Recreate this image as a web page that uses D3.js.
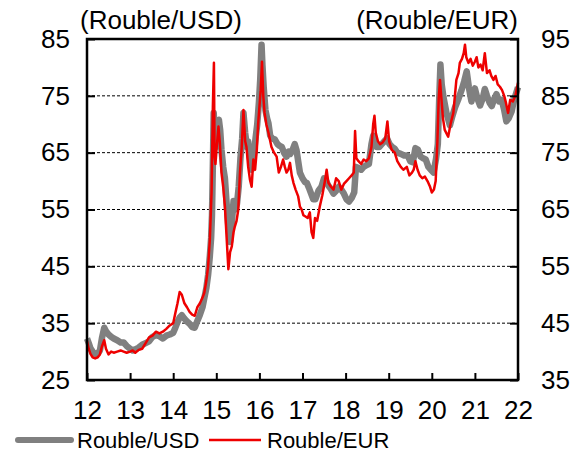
<!DOCTYPE html>
<meta charset="utf-8">
<script src="https://d3js.org/d3.v7.min.js"></script>
<style>
  body { margin: 0; background: #fff; }
  text { font-family: Arial, "Liberation Sans", sans-serif; fill: #000; }
</style>
<div id="chart"></div>
<script>

// x tick labels (years, 2-digit)
var years = [12, 13, 14, 15, 16, 17, 18, 19, 20, 21, 22];
var leftTicks = [25, 35, 45, 55, 65, 75, 85];
var rightTicks = [35, 45, 55, 65, 75, 85, 95];

// Rouble/USD, [decimal year, value] - left axis
var usd = [
  [2012.00,32.3],[2012.04,31.5],[2012.08,30.6],[2012.13,30.0],[2012.19,29.6],[2012.25,29.7],
  [2012.30,30.2],[2012.35,32.5],[2012.40,34.2],[2012.44,33.6],[2012.50,33.0],[2012.56,32.6],
  [2012.62,32.3],[2012.70,32.0],[2012.78,31.6],[2012.85,31.6],[2012.92,31.0],[2013.00,30.5],
  [2013.06,30.2],[2013.12,30.4],[2013.20,30.7],[2013.28,31.2],[2013.36,31.5],[2013.44,31.8],
  [2013.52,32.6],[2013.60,32.9],[2013.68,32.7],[2013.76,32.3],[2013.84,32.8],[2013.92,33.0],
  [2014.00,33.3],[2014.05,34.2],[2014.10,35.2],[2014.15,36.0],[2014.20,36.4],[2014.26,35.8],
  [2014.32,35.3],[2014.38,34.9],[2014.44,34.3],[2014.50,34.2],[2014.56,35.4],[2014.62,36.5],
  [2014.68,37.8],[2014.72,39.3],[2014.77,41.2],[2014.81,43.5],[2014.85,46.8],[2014.88,50.0],
  [2014.90,54.0],[2014.925,65.0],[2014.94,72.0],[2014.97,67.5],[2015.00,66.0],[2015.03,69.5],
  [2015.06,70.8],[2015.09,69.0],[2015.12,65.5],[2015.16,62.5],[2015.20,60.5],[2015.24,56.0],
  [2015.28,52.0],[2015.32,49.3],[2015.36,52.5],[2015.40,56.5],[2015.44,55.0],[2015.48,56.0],
  [2015.52,59.0],[2015.56,64.0],[2015.60,67.5],[2015.63,72.0],[2015.67,68.5],[2015.71,66.0],
  [2015.74,67.0],[2015.78,64.0],[2015.82,62.0],[2015.87,64.5],[2015.91,67.5],[2015.95,70.0],
  [2015.99,74.0],[2016.02,78.0],[2016.05,84.0],[2016.07,80.5],[2016.10,76.5],[2016.14,72.5],
  [2016.18,71.0],[2016.21,70.2],[2016.25,68.0],[2016.30,67.5],[2016.36,67.3],[2016.42,66.5],
  [2016.47,66.2],[2016.52,66.0],[2016.57,65.0],[2016.63,64.3],[2016.68,65.2],[2016.72,64.8],
  [2016.77,65.5],[2016.82,66.5],[2016.86,65.5],[2016.90,63.5],[2016.94,61.5],[2017.00,60.5],
  [2017.06,59.8],[2017.10,59.7],[2017.15,58.8],[2017.20,57.8],[2017.25,56.8],[2017.30,56.8],
  [2017.37,58.3],[2017.44,59.0],[2017.50,60.5],[2017.55,60.0],[2017.60,59.2],[2017.66,58.6],
  [2017.72,57.8],[2017.78,58.3],[2017.84,59.0],[2017.90,58.5],[2017.96,57.8],[2018.02,56.8],
  [2018.08,56.4],[2018.14,57.0],[2018.20,58.0],[2018.24,62.5],[2018.30,62.3],[2018.36,62.0],
  [2018.42,62.5],[2018.48,62.8],[2018.54,63.0],[2018.60,66.5],[2018.64,68.0],[2018.68,67.0],
  [2018.72,66.0],[2018.78,66.0],[2018.84,66.5],[2018.90,67.0],[2018.96,67.5],[2019.02,66.5],
  [2019.08,66.0],[2019.14,65.7],[2019.20,65.0],[2019.28,64.8],[2019.36,64.5],[2019.44,64.5],
  [2019.50,63.5],[2019.56,63.3],[2019.62,65.8],[2019.68,65.5],[2019.74,64.3],[2019.80,64.0],
  [2019.86,63.8],[2019.92,62.5],[2019.98,62.0],[2020.04,61.5],[2020.10,64.0],[2020.14,66.5],
  [2020.17,74.0],[2020.20,80.5],[2020.23,77.0],[2020.27,74.8],[2020.34,72.0],[2020.42,69.8],
  [2020.48,71.5],[2020.54,73.0],[2020.62,74.5],[2020.69,76.0],[2020.75,77.5],[2020.81,79.3],
  [2020.86,76.5],[2020.92,74.0],[2020.96,75.5],[2021.00,76.3],[2021.06,74.5],[2021.12,73.3],
  [2021.18,74.5],[2021.23,76.2],[2021.28,75.0],[2021.34,73.8],[2021.39,73.2],[2021.45,74.5],
  [2021.50,75.3],[2021.56,74.0],[2021.62,74.3],[2021.68,72.5],[2021.73,70.5],[2021.78,71.0],
  [2021.85,72.2],[2021.90,74.0],[2021.95,75.3],[2022.00,76.5]
];

// Rouble/EUR, [decimal year, value] - right axis
var eur = [
  [2012.00,41.8],[2012.04,40.5],[2012.08,39.6],[2012.13,39.0],[2012.19,38.8],[2012.25,39.0],
  [2012.30,39.5],[2012.35,41.0],[2012.40,42.0],[2012.44,40.5],[2012.50,39.5],[2012.56,40.0],
  [2012.62,39.8],[2012.70,40.0],[2012.78,40.2],[2012.85,40.0],[2012.92,39.8],[2013.00,40.0],
  [2013.06,40.2],[2013.12,39.8],[2013.20,40.3],[2013.28,40.5],[2013.36,41.5],[2013.44,42.5],
  [2013.52,42.8],[2013.60,43.5],[2013.68,43.2],[2013.76,43.5],[2013.84,44.0],[2013.92,44.6],
  [2014.00,45.0],[2014.05,46.8],[2014.10,48.5],[2014.15,50.5],[2014.20,50.0],[2014.26,48.5],
  [2014.32,47.8],[2014.38,47.0],[2014.44,46.5],[2014.50,46.3],[2014.56,47.8],[2014.62,48.5],
  [2014.68,49.5],[2014.72,50.3],[2014.77,52.5],[2014.81,55.0],[2014.85,59.7],[2014.89,68.0],
  [2014.92,83.0],[2014.945,90.8],[2014.96,74.3],[2014.98,73.0],[2015.01,76.0],[2015.05,79.6],
  [2015.08,77.0],[2015.12,71.5],[2015.16,69.0],[2015.20,65.5],[2015.24,60.0],[2015.28,54.5],
  [2015.32,57.5],[2015.36,58.5],[2015.40,61.0],[2015.43,62.0],[2015.47,63.0],[2015.51,65.0],
  [2015.55,71.5],[2015.59,76.0],[2015.63,82.5],[2015.67,77.0],[2015.70,76.0],[2015.74,72.5],
  [2015.78,70.3],[2015.82,69.0],[2015.86,73.8],[2015.90,72.0],[2015.94,75.5],[2015.97,80.0],
  [2016.00,83.0],[2016.03,86.0],[2016.06,91.0],[2016.09,85.0],[2016.12,82.0],[2016.16,80.0],
  [2016.21,78.5],[2016.28,76.0],[2016.34,75.0],[2016.40,74.3],[2016.45,71.5],[2016.50,72.5],
  [2016.55,73.8],[2016.59,72.5],[2016.63,71.5],[2016.67,72.0],[2016.71,73.2],[2016.75,71.0],
  [2016.79,69.7],[2016.84,68.5],[2016.90,67.3],[2016.94,65.5],[2016.98,65.0],[2017.02,64.0],
  [2017.06,63.8],[2017.12,63.5],[2017.17,64.5],[2017.21,61.0],[2017.25,60.0],[2017.29,63.5],
  [2017.34,63.0],[2017.40,65.5],[2017.46,67.5],[2017.52,70.0],[2017.56,72.0],[2017.60,69.7],
  [2017.66,69.0],[2017.72,68.5],[2017.78,70.5],[2017.84,70.0],[2017.90,68.5],[2017.96,69.5],
  [2018.02,70.0],[2018.08,70.5],[2018.14,71.0],[2018.19,71.5],[2018.22,78.8],[2018.25,74.0],
  [2018.30,73.5],[2018.36,73.0],[2018.42,73.8],[2018.48,73.5],[2018.54,74.0],[2018.60,76.0],
  [2018.64,80.0],[2018.67,81.5],[2018.70,78.5],[2018.75,77.0],[2018.80,76.5],[2018.86,76.8],
  [2018.92,77.5],[2018.97,80.5],[2019.01,77.0],[2019.07,75.5],[2019.14,75.0],[2019.20,73.5],
  [2019.28,72.5],[2019.34,72.0],[2019.42,72.5],[2019.48,71.0],[2019.54,71.5],[2019.58,72.0],
  [2019.62,73.5],[2019.67,72.0],[2019.72,71.0],[2019.78,70.5],[2019.84,70.8],[2019.90,70.0],
  [2019.96,69.0],[2020.00,68.0],[2020.05,68.5],[2020.09,70.0],[2020.13,77.0],[2020.16,84.5],
  [2020.19,87.8],[2020.22,84.8],[2020.26,81.0],[2020.30,79.0],[2020.38,77.8],[2020.44,80.2],
  [2020.50,82.0],[2020.57,87.8],[2020.62,89.0],[2020.65,90.8],[2020.70,91.5],[2020.74,92.5],
  [2020.77,94.0],[2020.80,91.8],[2020.85,90.8],[2020.90,91.5],[2020.95,90.3],[2021.00,91.0],
  [2021.04,91.8],[2021.08,90.0],[2021.13,90.5],[2021.18,89.5],[2021.23,92.5],[2021.28,89.0],
  [2021.34,89.5],[2021.38,88.5],[2021.43,87.8],[2021.48,88.5],[2021.53,87.0],[2021.58,86.6],
  [2021.63,86.0],[2021.68,85.0],[2021.72,83.8],[2021.77,82.0],[2021.82,84.3],[2021.88,84.0],
  [2021.94,85.0],[2022.00,87.3]
];

var W = 587, H = 453;
var margin = {top: 39, right: 69, bottom: 73, left: 87},
    width = W - margin.left - margin.right,
    height = H - margin.top - margin.bottom;

var svg = d3.select("#chart").append("svg")
    .attr("width", W)
    .attr("height", H);

var g = svg.append("g")
    .attr("transform", "translate(" + margin.left + "," + margin.top + ")");

var x = d3.scaleLinear().domain([2012, 2022]).range([0, width]);
var yL = d3.scaleLinear().domain([25, 85]).range([height, 0]);
var yR = d3.scaleLinear().domain([35, 95]).range([height, 0]);

// dotted gridlines
g.selectAll(".grid")
    .data(leftTicks.filter(function(d) { return d > 25 && d < 85; }))
    .enter().append("line")
    .attr("x1", 0).attr("x2", width)
    .attr("y1", function(d) { return yL(d); })
    .attr("y2", function(d) { return yL(d); })
    .attr("stroke", "#000")
    .attr("stroke-width", 1)
    .attr("stroke-dasharray", "3,2");

// lines
var line = function(scale) {
  return d3.line()
    .x(function(d) { return x(d[0]); })
    .y(function(d) { return scale(d[1]); });
};

g.append("path")
    .datum(usd)
    .attr("fill", "none")
    .attr("stroke", "#808080")
    .attr("stroke-width", 6.5)
    .attr("stroke-linejoin", "round")
    .attr("d", line(yL));

g.append("path")
    .datum(eur)
    .attr("fill", "none")
    .attr("stroke", "#ee0000")
    .attr("stroke-width", 2.5)
    .attr("stroke-linejoin", "round")
    .attr("d", line(yR));

// axes
var fs = "26px";

var xAxis = g.append("g")
    .attr("transform", "translate(0," + height + ")")
    .call(d3.axisBottom(x)
      .tickValues(years.map(function(d) { return 2000 + d; }))
      .tickSize(-7)
      .tickPadding(21)
      .tickFormat(function(d) { return String(d - 2000); }));

var leftAxis = g.append("g")
    .call(d3.axisLeft(yL).tickValues(leftTicks).tickSize(-8).tickPadding(17));

var rightAxis = g.append("g")
    .attr("transform", "translate(" + width + ",0)")
    .call(d3.axisRight(yR).tickValues(rightTicks).tickSize(-8).tickPadding(23));

[xAxis, leftAxis, rightAxis].forEach(function(a) {
  a.select(".domain").remove();
  a.selectAll(".tick line").attr("stroke", "#000").attr("stroke-width", 2);
  a.selectAll("text").style("font-size", fs).style("font-family", "Arial, 'Liberation Sans', sans-serif");
});

// box border
g.append("rect")
    .attr("x", 0).attr("y", 0)
    .attr("width", width).attr("height", height)
    .attr("fill", "none")
    .attr("stroke", "#000")
    .attr("stroke-width", 2.5);

// axis titles
svg.append("text")
    .attr("x", 80).attr("y", 29)
    .style("font-size", fs)
    .text("(Rouble/USD)");

svg.append("text")
    .attr("x", margin.left + width).attr("y", 29)
    .attr("text-anchor", "end")
    .style("font-size", fs)
    .text("(Rouble/EUR)");

// legend
var legend = svg.append("g").attr("transform", "translate(0,440)");
legend.append("line")
    .attr("x1", 18).attr("x2", 71).attr("y1", 0).attr("y2", 0)
    .attr("stroke", "#808080").attr("stroke-width", 6)
    .attr("stroke-linecap", "round");
legend.append("text")
    .attr("x", 77).attr("y", 8)
    .style("font-size", "22px")
    .text("Rouble/USD");
legend.append("line")
    .attr("x1", 209).attr("x2", 261).attr("y1", 0).attr("y2", 0)
    .attr("stroke", "#ee0000").attr("stroke-width", 2.5);
legend.append("text")
    .attr("x", 267).attr("y", 8)
    .style("font-size", "22px")
    .text("Rouble/EUR");

</script>
